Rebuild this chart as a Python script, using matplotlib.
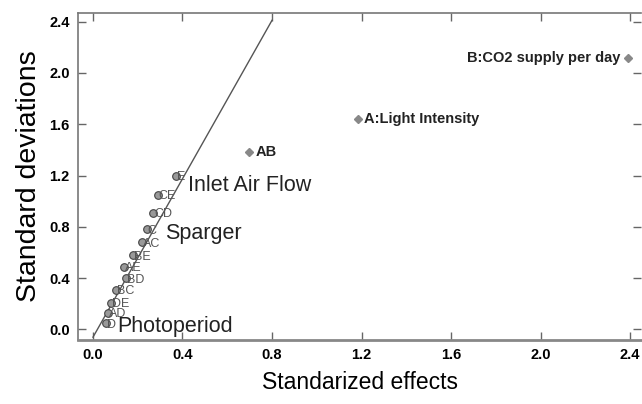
import numpy as np
import matplotlib
matplotlib.use("Agg")
from matplotlib import pyplot as plt
from matplotlib import font_manager

# Pontos pequenos (half-normal) com rótulos
small_labels = ['E', 'CE', 'CD', 'C', 'AC', 'BE', 'AE', 'BD', 'BC', 'DE', 'AD', 'D']
small_x = [0.37, 0.29, 0.27, 0.24, 0.22, 0.18, 0.14, 0.147, 0.105, 0.08, 0.068, 0.057]
small_y = [1.20, 1.05, 0.91, 0.78, 0.68, 0.58, 0.49, 0.40, 0.31, 0.21, 0.13, 0.05]

# Efeitos significativos
big_labels = ['AB', 'A:Light Intensity', 'B:CO2 supply per day']
big_x = [0.696, 1.183, 2.39]
big_y = [1.38, 1.64, 2.12]

# Linha de referência
line_x = [0.0, 0.80]
line_y = [-0.06, 2.41]

ticks = [0.0, 0.4, 0.8, 1.2, 1.6, 2.0, 2.4]

names = {f.name for f in font_manager.fontManager.ttflist}
narrow = 'Liberation Sans Narrow' if 'Liberation Sans Narrow' in names else 'Liberation Sans'

fig = plt.figure(figsize=(6.42, 4.04), dpi=100)
ax = fig.add_axes([78/642, 1 - 340/404, 563/642, 327/404])

ax.plot(line_x, line_y, '-', color='#555555', lw=1.0)

ax.plot(small_x, small_y, 'o', ms=5.5, mfc='#999999', mec='#444444', mew=0.8)
for lab, x, y in zip(small_labels, small_x, small_y):
    ax.text(x + 0.004, y - 0.012, lab, fontsize=9, color='#555555',
            family='Liberation Sans', va='center', ha='left')

ax.plot(big_x, big_y, 'D', ms=4, mfc='#888888', mec='#888888')
ax.text(big_x[0] + 0.03, big_y[0], big_labels[0], fontsize=10.5, fontweight='bold',
        family='Liberation Sans', va='center', ha='left', color='#222222')
ax.text(big_x[1] + 0.03, big_y[1], big_labels[1], fontsize=10.5, fontweight='bold',
        family='Liberation Sans', va='center', ha='left', color='#222222')
ax.text(big_x[2] - 0.035, big_y[2], big_labels[2], fontsize=10.5, fontweight='bold',
        family='Liberation Sans', va='center', ha='right', color='#222222')

ax.text(0.423, 1.12, 'Inlet Air Flow', fontsize=15.5, family='Liberation Sans',
        va='center', ha='left', color='#222222')
ax.text(0.32, 0.75, 'Sparger', fontsize=15.5, family='Liberation Sans',
        va='center', ha='left', color='#222222')
ax.text(0.11, 0.02, 'Photoperiod', fontsize=15.5, family='Liberation Sans',
        va='center', ha='left', color='#222222')

ax.set_xlim(-0.067, 2.449)
ax.set_ylim(-0.082, 2.467)
ax.set_xticks(ticks)
ax.set_yticks(ticks)
ax.set_xticklabels([f'{t:.1f}' for t in ticks], family=narrow, fontweight='bold', fontsize=10.5)
ax.set_yticklabels([f'{t:.1f}' for t in ticks], family=narrow, fontweight='bold', fontsize=10.5)
ax.tick_params(direction='in', top=True, right=True, length=6, width=1, color='#666666', pad=6)

for s in ['left', 'top']:
    ax.spines[s].set_color('#777777')
    ax.spines[s].set_linewidth(1.2)
ax.spines['bottom'].set_color('#888888')
ax.spines['bottom'].set_linewidth(2.0)
ax.spines['right'].set_visible(False)

ax.set_xlabel('Standarized effects', fontsize=16.5, family='Liberation Sans', labelpad=6)
ax.set_ylabel('Standard deviations', fontsize=20.5, family='Liberation Sans', labelpad=5)

fig.savefig('out.png', dpi=100)
